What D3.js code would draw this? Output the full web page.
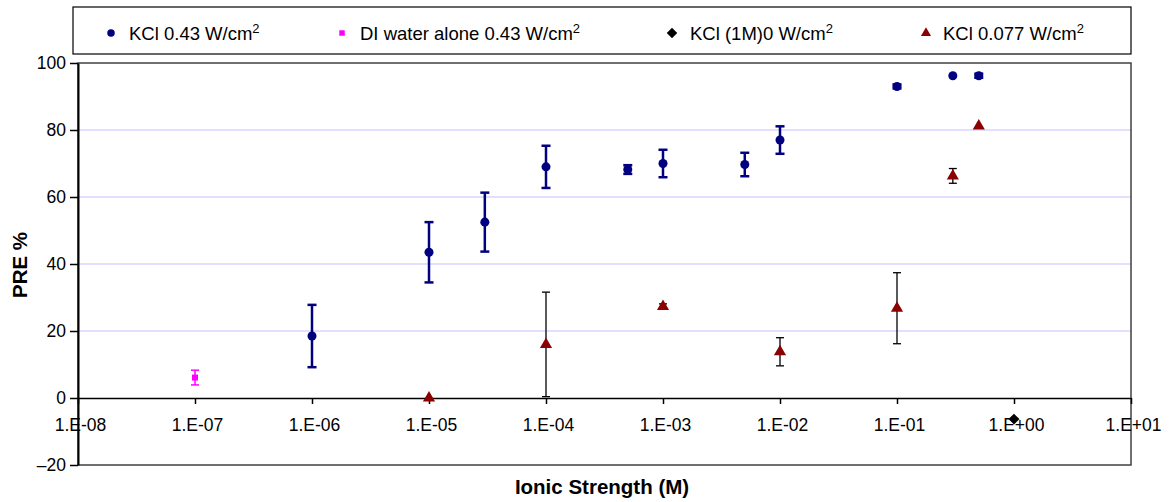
<!DOCTYPE html>
<html>
<head>
<meta charset="utf-8">
<script src="https://cdn.jsdelivr.net/npm/d3@7"></script>
<style>
  body { margin: 0; background: #fff; }
  svg { font-family: "Liberation Sans", Arial, sans-serif; }
</style>
</head>
<body>
<svg width="1171" height="502"></svg>
<script>
// KCl 0.43 W/cm2
const kclX = [1e-6, 1e-5, 3e-5, 1e-4, 5e-4, 1e-3, 5e-3, 1e-2, 1e-1, 3e-1, 5e-1];
const kclY = [18.5, 43.5, 52.5, 69, 68.2, 70, 69.7, 77, 93, 96.2, 96.2];
const kclErr = [9.3, 9, 8.8, 6.3, 1.3, 4.1, 3.5, 4.1, 0.6, 0, 0.6];
// DI water alone 0.43 W/cm2
const diX = [1e-7];
const diY = [6.1];
const diErr = [2.2];
// KCl (1M) 0 W/cm2
const kcl1mX = [1];
const kcl1mY = [-6.3];
// KCl 0.077 W/cm2
const lowX = [1e-5, 1e-4, 1e-3, 1e-2, 1e-1, 3e-1, 5e-1];
const lowY = [0, 16, 27.3, 13.8, 26.8, 66.3, 81.2];
const lowErr = [0, 15.6, 0.8, 4.2, 10.6, 2.2, 0];

const yTicks = [-20, 0, 20, 40, 60, 80, 100];
const xTicks = [1e-8, 1e-7, 1e-6, 1e-5, 1e-4, 1e-3, 1e-2, 1e-1, 1, 10];

const svg = d3.select("svg");
const mLeft = 78, mRight = 1131, mTop = 63, mBottom = 465;

const x = d3.scaleLog().domain([1e-8, 10]).range([mLeft, mRight]);
const y = d3.scaleLinear().domain([-20, 100]).range([mBottom, mTop]);

// gridlines
svg.append("g").selectAll("line")
  .data([20, 40, 60, 80])
  .enter().append("line")
  .attr("x1", mLeft).attr("x2", mRight)
  .attr("y1", d => y(d)).attr("y2", d => y(d))
  .attr("stroke", "#c4c4ff").attr("stroke-width", 1.2);

// plot frame
svg.append("rect")
  .attr("x", mLeft).attr("y", mTop)
  .attr("width", mRight - mLeft).attr("height", mBottom - mTop)
  .attr("fill", "none").attr("stroke", "#404040").attr("stroke-width", 1.5);

// y axis
const yAxis = svg.append("g")
  .attr("transform", "translate(" + mLeft + ",0)")
  .call(d3.axisLeft(y).tickValues(yTicks).tickSize(8).tickSizeOuter(0)
    .tickFormat(d => d < 0 ? "\u2013" + Math.abs(d) : d));
yAxis.select(".domain").attr("stroke", "#000").attr("stroke-width", 2);
yAxis.selectAll(".tick line").attr("stroke", "#000").attr("stroke-width", 1.5);
yAxis.selectAll("text").attr("font-size", 17.5).attr("fill", "#000").attr("x", -12);

// x axis at y = 0
const fmt = d => {
  const e = Math.round(Math.log10(d));
  return "1.E" + (e < 0 ? "-" : "+") + String(Math.abs(e)).padStart(2, "0");
};
const xAxis = svg.append("g")
  .attr("transform", "translate(0," + y(0) + ")")
  .call(d3.axisBottom(x).tickValues(xTicks).tickSize(6).tickSizeOuter(0).tickFormat(fmt));
xAxis.select(".domain").attr("stroke", "#000").attr("stroke-width", 1.5);
xAxis.selectAll(".tick line").attr("stroke", "#000").attr("stroke-width", 1.5);
xAxis.selectAll("text").attr("font-size", 17.5).attr("fill", "#000")
  .attr("y", 33).attr("dy", null).attr("dx", 2);

// axis titles
svg.append("text")
  .attr("x", 602).attr("y", 494)
  .attr("text-anchor", "middle").attr("font-size", 20.5).attr("font-weight", "bold")
  .text("Ionic Strength (M)");
svg.append("text")
  .attr("transform", "translate(27,265) rotate(-90)")
  .attr("text-anchor", "middle").attr("font-size", 20.5).attr("font-weight", "bold")
  .text("PRE %");

// error bars helper
function errorBars(xs, ys, es, color, width, cap) {
  const g = svg.append("g").attr("stroke", color).attr("stroke-width", width);
  xs.forEach((xv, i) => {
    if (!es[i]) return;
    const cx = x(xv), y1 = y(ys[i] + es[i]), y2 = y(ys[i] - es[i]);
    g.append("line").attr("x1", cx).attr("x2", cx).attr("y1", y1).attr("y2", y2);
    g.append("line").attr("x1", cx - cap).attr("x2", cx + cap).attr("y1", y1).attr("y2", y1);
    g.append("line").attr("x1", cx - cap).attr("x2", cx + cap).attr("y1", y2).attr("y2", y2);
  });
}

errorBars(lowX, lowY, lowErr, "#000", 1.3, 4);
errorBars(kclX, kclY, kclErr, "#000080", 2.5, 4.5);
errorBars(diX, diY, diErr, "#ff00ff", 1.5, 4);

const sym = (type, size) => d3.symbol().type(type).size(size)();

svg.append("g").selectAll("path")
  .data(kclX.map((d, i) => [d, kclY[i]]))
  .enter().append("path")
  .attr("d", sym(d3.symbolCircle, 64))
  .attr("transform", d => "translate(" + x(d[0]) + "," + y(d[1]) + ")")
  .attr("fill", "#000080");

svg.append("g").selectAll("path")
  .data(diX.map((d, i) => [d, diY[i]]))
  .enter().append("path")
  .attr("d", sym(d3.symbolSquare, 36))
  .attr("transform", d => "translate(" + x(d[0]) + "," + y(d[1]) + ")")
  .attr("fill", "#ff00ff");

svg.append("g").selectAll("path")
  .data(kcl1mX.map((d, i) => [d, kcl1mY[i]]))
  .enter().append("path")
  .attr("d", sym(d3.symbolSquare, 60))
  .attr("transform", d => "translate(" + x(d[0]) + "," + y(d[1]) + ") rotate(45)")
  .attr("fill", "#000");

svg.append("g").selectAll("path")
  .data(lowX.map((d, i) => [d, lowY[i]]))
  .enter().append("path")
  .attr("d", sym(d3.symbolTriangle, 64))
  .attr("transform", d => "translate(" + x(d[0]) + "," + y(d[1]) + ")")
  .attr("fill", "#8b0000");

// legend
svg.append("rect")
  .attr("x", 73).attr("y", 7).attr("width", 1058).attr("height", 47)
  .attr("fill", "#fff").attr("stroke", "#000").attr("stroke-width", 1.2);

const legendItems = [
  { label: "KCl 0.43 W/cm", type: d3.symbolCircle, size: 44, color: "#000080", mx: 111, tx: 129, rot: 0 },
  { label: "DI water alone 0.43 W/cm", type: d3.symbolSquare, size: 30, color: "#ff00ff", mx: 342, tx: 360, rot: 0 },
  { label: "KCl (1M)0 W/cm", type: d3.symbolSquare, size: 55, color: "#000", mx: 672, tx: 690, rot: 45 },
  { label: "KCl 0.077 W/cm", type: d3.symbolTriangle, size: 44, color: "#8b0000", mx: 926, tx: 943, rot: 0 }
];
const lg = svg.append("g").selectAll("g")
  .data(legendItems).enter().append("g");
lg.append("path")
  .attr("d", d => sym(d.type, d.size))
  .attr("transform", d => "translate(" + d.mx + ",33) rotate(" + d.rot + ")")
  .attr("fill", d => d.color);
const lt = lg.append("text")
  .attr("x", d => d.tx).attr("y", 40)
  .attr("font-size", 18.5).attr("fill", "#000")
  .text(d => d.label);
lt.append("tspan").attr("dy", -7).attr("font-size", 13).text("2");
</script>
</body>
</html>
